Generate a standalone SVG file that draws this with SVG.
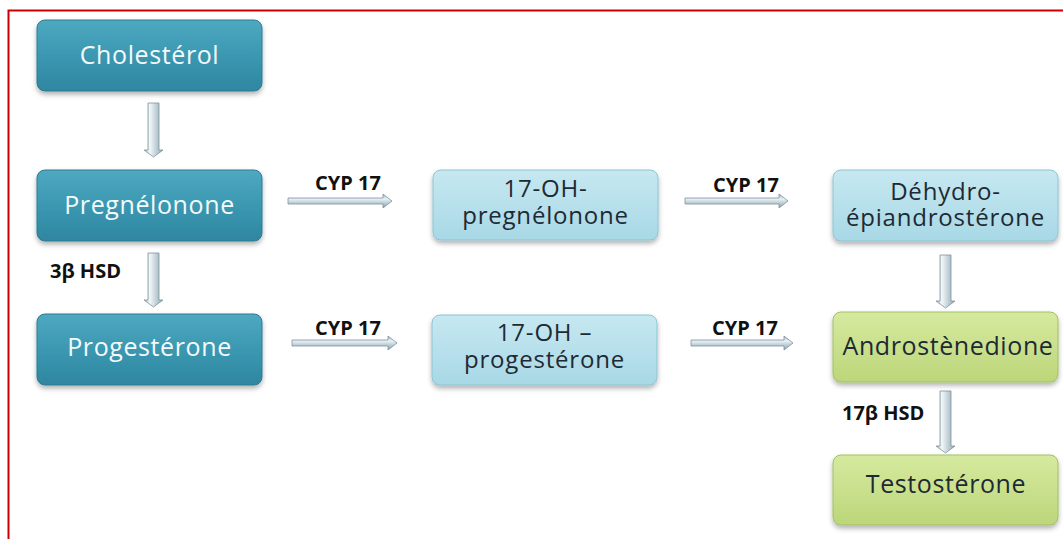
<svg xmlns="http://www.w3.org/2000/svg" width="1063" height="539" viewBox="0 0 1063 539">
<defs>
<linearGradient id="gTeal" x1="0" y1="0" x2="0" y2="1">
<stop offset="0" stop-color="#4ea8c0"/><stop offset="0.5" stop-color="#3b98b1"/><stop offset="1" stop-color="#2f86a0"/>
</linearGradient>
<linearGradient id="gBlue" x1="0" y1="0" x2="0" y2="1">
<stop offset="0" stop-color="#c6e8f1"/><stop offset="1" stop-color="#a8d8e6"/>
</linearGradient>
<linearGradient id="gGreen" x1="0" y1="0" x2="0" y2="1">
<stop offset="0" stop-color="#d6ea9f"/><stop offset="1" stop-color="#bcd67a"/>
</linearGradient>
<linearGradient id="gArrH" x1="0" y1="0" x2="0" y2="1">
<stop offset="0" stop-color="#9fb6c2"/><stop offset="0.35" stop-color="#e8f2f6"/><stop offset="1" stop-color="#8aa0ac"/>
</linearGradient>
<linearGradient id="gArrV" x1="0" y1="0" x2="1" y2="0">
<stop offset="0" stop-color="#9fb4bf"/><stop offset="0.3" stop-color="#f2f8fa"/><stop offset="1" stop-color="#8fa5b1"/>
</linearGradient>
<filter id="sh" x="-10%" y="-10%" width="120%" height="140%">
<feDropShadow dx="0" dy="3" stdDeviation="2.5" flood-color="#000" flood-opacity="0.3"/>
</filter>
</defs>
<style>
.teal{fill:url(#gTeal);stroke:#2b7c94;stroke-width:1}
.blue{fill:url(#gBlue);stroke:#8dc4d4;stroke-width:1}
.green{fill:url(#gGreen);stroke:#a2bf64;stroke-width:1}
.t{font-family:"Open Sans","DejaVu Sans",sans-serif;font-size:25px;letter-spacing:0.6px;text-anchor:middle}
.t2{font-size:24px;letter-spacing:0.8px}
.w{fill:#f4fafc}
.d{fill:#1e2a33}
.lbl{font-family:"Open Sans","DejaVu Sans",sans-serif;font-size:20px;font-weight:bold;fill:#111}
.ah{fill:url(#gArrH);stroke:#7d939e;stroke-width:0.8}
.av{fill:url(#gArrV);stroke:#7d939e;stroke-width:0.8}
</style>
<rect x="8.5" y="10.5" width="1064" height="540" fill="#fff" stroke="#cc0000" stroke-width="2"/>

<g id="connectors">
<path class="av" d="M148,103 H159 V150 H163 L153.5,157 L144,150 H148 Z"/>
<path class="av" d="M148,253 H159 V300 H163 L153.5,307 L144,300 H148 Z"/>
<path class="av" d="M940,255 H951 V301 H955 L945.5,308 L936,301 H940 Z"/>
<path class="av" d="M940,391 H951 V446 H955 L945.5,453 L936,446 H940 Z"/>
<path class="ah" d="M288,198 H383 V194 L392,201 L383,208 V204 H288 Z"/>
<path class="ah" d="M685,198 H779 V194 L788,201 L779,208 V204 H685 Z"/>
<path class="ah" d="M292,340 H388 V336 L397,343 L388,350 V346 H292 Z"/>
<path class="ah" d="M691,340 H784 V336 L793,343 L784,350 V346 H691 Z"/>
<text class="lbl" x="348" y="190" text-anchor="middle">CYP 17</text>
<text class="lbl" x="746" y="192" text-anchor="middle">CYP 17</text>
<text class="lbl" x="348" y="335" text-anchor="middle">CYP 17</text>
<text class="lbl" x="745" y="335" text-anchor="middle">CYP 17</text>
<text class="lbl" x="50" y="278">3β HSD</text>
<text class="lbl" x="842" y="420">17β HSD</text>
</g>

<g id="cholesterol"><rect class="teal" x="37" y="20" width="225" height="71" rx="8" filter="url(#sh)"/><text class="t w" x="149.5" y="64">Cholestérol</text></g>
<g id="pregnenolone"><rect class="teal" x="37" y="170" width="225" height="71" rx="8" filter="url(#sh)"/><text class="t w" x="149.5" y="214">Pregnélonone</text></g>
<g id="progesterone"><rect class="teal" x="37" y="314" width="225" height="71" rx="8" filter="url(#sh)"/><text class="t w" x="149.5" y="356">Progestérone</text></g>

<g id="oh-pregnenolone"><rect class="blue" x="433" y="170" width="225" height="70" rx="8" filter="url(#sh)"/><text class="t t2 d" x="545.5" y="197">17-OH-</text><text class="t t2 d" x="545.5" y="224">pregnélonone</text></g>
<g id="oh-progesterone"><rect class="blue" x="432" y="315" width="225" height="70" rx="8" filter="url(#sh)"/><text class="t t2 d" x="544.5" y="341">17-OH –</text><text class="t t2 d" x="544.5" y="368">progestérone</text></g>

<g id="dhea"><rect class="blue" x="833" y="170" width="225" height="71" rx="8" filter="url(#sh)"/><text class="t t2 d" x="945.5" y="200">Déhydro-</text><text class="t t2 d" x="945.5" y="226">épiandrostérone</text></g>
<g id="androstenedione"><rect class="green" x="833" y="312" width="225" height="70" rx="8" filter="url(#sh)"/><text class="t d" x="948" y="355">Androstènedione</text></g>
<g id="testosterone"><rect class="green" x="833" y="455" width="225" height="70" rx="8" filter="url(#sh)"/><text class="t d" x="946" y="493">Testostérone</text></g>
</svg>
